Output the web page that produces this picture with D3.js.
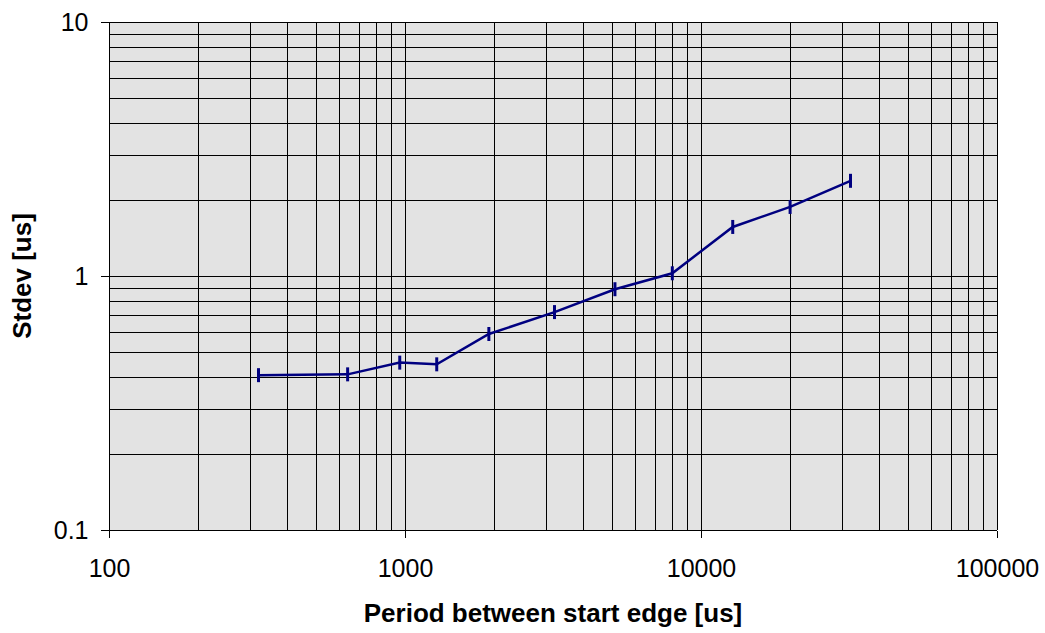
<!DOCTYPE html>
<html>
<head>
<meta charset="utf-8">
<script src="https://cdn.jsdelivr.net/npm/d3@7"></script>
<style>
  body { margin: 0; background: #fff; }
  text { font-family: "Liberation Sans", Arial, sans-serif; }
</style>
</head>
<body>
<svg id="chart" width="1045" height="633"></svg>
<script>
// period between start edges [us]
const periods = [320, 640, 960, 1280, 1920, 3200, 5120, 8000, 12800, 20000, 32000];
// stdev [us]
const stdevs = [0.407, 0.41, 0.456, 0.449, 0.591, 0.721, 0.887, 1.025, 1.56, 1.87, 2.37];

const xTicks = [100, 1000, 10000, 100000];
const yTicks = [0.1, 1, 10];

const svg = d3.select('#chart');

const plotL = 109, plotR = 997, plotT = 22, plotB = 530;

const xScale = d3.scaleLog().domain([100, 100000]).range([plotL, plotR]);
const yScale = d3.scaleLog().domain([0.1, 10]).range([plotB, plotT]);

// plot background
svg.append('rect')
  .attr('x', plotL).attr('y', plotT)
  .attr('width', plotR - plotL).attr('height', plotB - plotT)
  .attr('fill', '#e3e3e3');

// minor + major gridlines
let xGrid = [];
for (let d = 100; d < 100000; d *= 10) for (let k = 1; k <= 9; k++) xGrid.push(d * k);
xGrid.push(100000);
let yGrid = [];
for (let d = 0.1; d < 10; d *= 10) for (let k = 1; k <= 9; k++) yGrid.push(+(d * k).toPrecision(3));
yGrid.push(10);

const grid = svg.append('g').attr('stroke', '#000').attr('stroke-width', 1).attr('shape-rendering', 'crispEdges');

grid.selectAll('.vx')
  .data(xGrid)
  .enter()
  .append('line')
  .attr('x1', d => Math.round(xScale(d)) + 0.5)
  .attr('x2', d => Math.round(xScale(d)) + 0.5)
  .attr('y1', plotT).attr('y2', plotB);

grid.selectAll('.hy')
  .data(yGrid)
  .enter()
  .append('line')
  .attr('y1', d => Math.round(yScale(d)) + 0.5)
  .attr('y2', d => Math.round(yScale(d)) + 0.5)
  .attr('x1', plotL).attr('x2', plotR);

// axes
const xAxis = svg.append('g')
  .attr('transform', 'translate(0,' + (plotB + 0.5) + ')')
  .call(d3.axisBottom(xScale).tickValues(xTicks).tickSize(7).tickPadding(22).tickFormat(d3.format('d')));

const yAxis = svg.append('g')
  .attr('transform', 'translate(' + (plotL + 0.5) + ',0)')
  .call(d3.axisLeft(yScale).tickValues(yTicks).tickSize(9).tickPadding(12).tickFormat(d => d));

[xAxis, yAxis].forEach(a => {
  a.selectAll('.tick text').attr('fill', '#000').style('font-size', '25px');
  a.selectAll('.tick line').attr('stroke', '#000').attr('shape-rendering', 'crispEdges');
  a.select('.domain').attr('stroke', '#000').attr('shape-rendering', 'crispEdges').attr('d',
    a === xAxis ? 'M' + plotL + ',0H' + plotR : 'M0,' + plotT + 'V' + plotB);
});

// series line
const line = d3.line()
  .x((d, i) => xScale(periods[i]))
  .y(d => yScale(d));

svg.append('path')
  .datum(stdevs)
  .attr('d', line)
  .attr('fill', 'none')
  .attr('stroke', '#000080')
  .attr('stroke-width', 2.5);

// markers (short vertical dashes)
svg.selectAll('.mark')
  .data(stdevs)
  .enter()
  .append('line')
  .attr('x1', (d, i) => xScale(periods[i]))
  .attr('x2', (d, i) => xScale(periods[i]))
  .attr('y1', d => yScale(d) - 7)
  .attr('y2', d => yScale(d) + 7)
  .attr('stroke', '#000080')
  .attr('stroke-width', 3);

// axis titles
svg.append('text')
  .attr('x', (plotL + plotR) / 2)
  .attr('y', 622)
  .attr('text-anchor', 'middle')
  .style('font-size', '26px')
  .style('font-weight', 'bold')
  .text('Period between start edge [us]');

svg.append('text')
  .attr('transform', 'translate(31,' + ((plotT + plotB) / 2) + ') rotate(-90)')
  .attr('text-anchor', 'middle')
  .style('font-size', '26px')
  .style('font-weight', 'bold')
  .text('Stdev [us]');
</script>
</body>
</html>
